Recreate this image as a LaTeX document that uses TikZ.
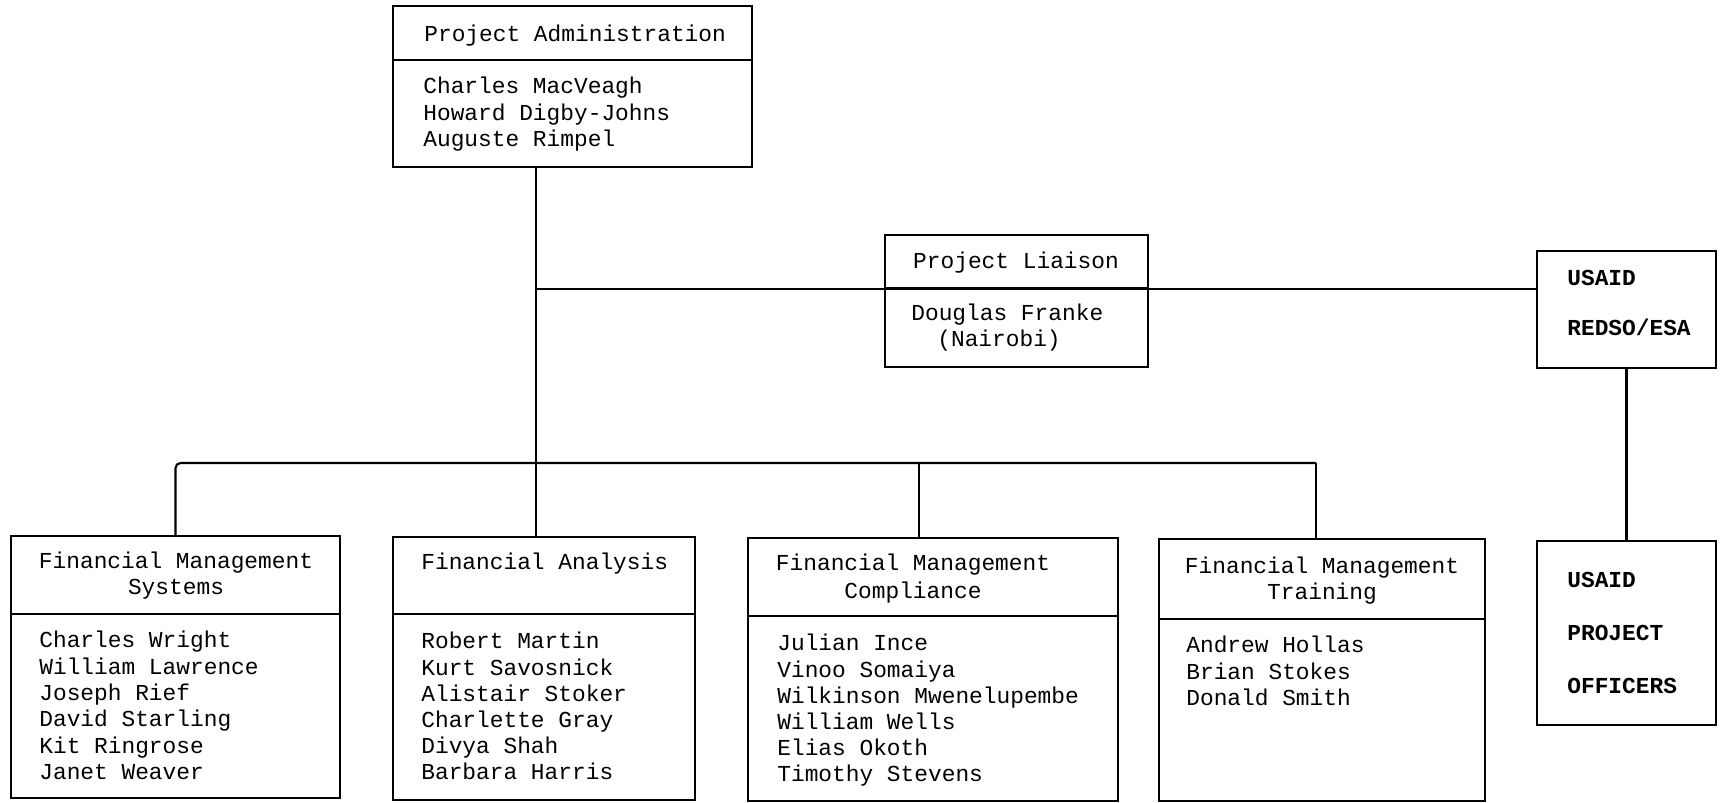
\documentclass[tikz,border=0pt]{standalone}
\usepackage{fontspec}
\newfontfamily\tw{Liberation Mono}
\usetikzlibrary{calc}
\tikzset{
  boxst/.style={draw, line width=1.2pt, rectangle, inner sep=0pt},
  txt/.style={font=\tw\fontsize{13}{15}\selectfont, inner sep=0pt, anchor=base west},
  ctxt/.style={txt, anchor=base},
  btxt/.style={font=\tw\bfseries\fontsize{13}{15}\selectfont, inner sep=0pt, anchor=base west},
  conn/.style={line width=1.2pt},
}
\newcommand\mybox[5]{\node[boxst, minimum width={(#4-#2)*0.02cm}, minimum height={(#5-#3)*0.02cm}] (#1) at ({(#2+#4)/2},{(#3+#5)/2}) {};}
\newcommand\mydiv[2]{\draw[conn] ($(#1.north west)+(0,#2)$) -- ($(#1.north east)+(0,#2)$);}
\begin{document}
\begin{tikzpicture}[x=0.02cm,y=-0.02cm]
\useasboundingbox[fill=white] (0,0) rectangle (1722,803);
% boxes
\mybox{pa}{393}{6}{752}{167}
\mybox{pl}{885}{235}{1148}{367}
\mybox{ua}{1537}{251}{1716}{368}
\mybox{upo}{1537}{541}{1716}{725}
\mybox{fms}{11}{536}{340}{798}
\mybox{fa}{393}{537}{695}{800}
\mybox{fmc}{748}{538}{1118}{801}
\mybox{fmt}{1159}{539}{1485}{801}
% dividers
\mydiv{pa}{55}
\mydiv{pl}{54}
\mydiv{fms}{79}
\mydiv{fa}{78}
\mydiv{fmc}{79}
\mydiv{fmt}{81}
% texts
\node[txt] (pat) at (424,42) {Project Administration};
\foreach \t [count=\i from 0] in {Charles MacVeagh, Howard Digby-Johns, Auguste Rimpel}
  \node[txt] (pan\i) at (423,{94+26.5*\i}) {\t};
\node[ctxt] (plt) at (1016,269) {Project Liaison};
\node[txt] (pln0) at (911,321) {Douglas Franke};
\node[txt] (pln1) at (937,347) {(Nairobi)};
\node[btxt] (uat0) at (1567,286) {USAID};
\node[btxt] (uat1) at (1567,336) {REDSO/ESA};
\node[btxt] (upot0) at (1567,588) {USAID};
\node[btxt] (upot1) at (1567,641) {PROJECT};
\node[btxt] (upot2) at (1567,694) {OFFICERS};
\node[ctxt] (fmst0) at (176,569) {Financial Management};
\node[ctxt] (fmst1) at (176,595) {Systems};
\foreach \t [count=\i from 0] in {Charles Wright, William Lawrence, Joseph Rief, David Starling, Kit Ringrose, Janet Weaver}
  \node[txt] (fmsn\i) at (39,{648+26.3*\i}) {\t};
\node[txt] (fat) at (421,570) {Financial Analysis};
\foreach \t [count=\i from 0] in {Robert Martin, Kurt Savosnick, Alistair Stoker, Charlette Gray, Divya Shah, Barbara Harris}
  \node[txt] (fan\i) at (421,{649+26.2*\i}) {\t};
\node[ctxt] (fmct0) at (913,571) {Financial Management};
\node[ctxt] (fmct1) at (913,599) {Compliance};
\foreach \t [count=\i from 0] in {Julian Ince, Vinoo Somaiya, Wilkinson Mwenelupembe, William Wells, Elias Okoth, Timothy Stevens}
  \node[txt] (fmcn\i) at (777,{651+26.1*\i}) {\t};
\node[ctxt] (fmtt0) at (1322,574) {Financial Management};
\node[ctxt] (fmtt1) at (1322,600) {Training};
\foreach \t [count=\i from 0] in {Andrew Hollas, Brian Stokes, Donald Smith}
  \node[txt] (fmtn\i) at (1186,{653+26.3*\i}) {\t};
% connectors
\coordinate (jl) at (536,289);
\coordinate (bus) at (0,463);
\coordinate (bc) at (919,463);
\coordinate (br) at (1316,463);
\draw[conn] (pa.south -| jl) -- (fa.north -| jl);
\draw[conn] (jl) -- (ua.west |- jl);
\draw[conn, rounded corners=1mm] (fms.north) -- (fms.north |- bus) -- (br);
\draw[conn] (br) -- (fmt.north -| br);
\draw[conn] (bc) -- (fmc.north -| bc);
\draw[conn] (ua.south) -- (upo.north);
\end{tikzpicture}
\end{document}
